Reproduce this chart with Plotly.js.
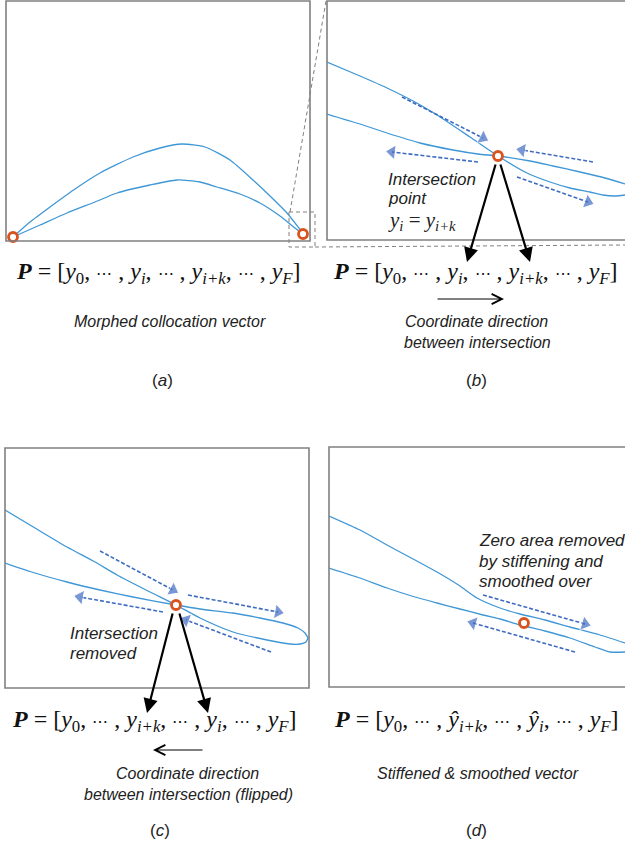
<!DOCTYPE html>
<html><head><meta charset="utf-8">
<script src="https://cdn.plot.ly/plotly-3.0.1.min.js"></script>
<style>html,body{margin:0;padding:0;background:#fff}</style>
</head><body><div id="chart" style="width:625px;height:856px"></div>
<script>
// ---------- data (page-pixel units inside each panel) ----------
const aUpperX = [13, 30, 50, 75, 100, 133, 160, 182, 205, 230, 253, 270, 287, 303, 308];
const aUpperY = [237, 222, 207, 189, 173, 157, 148, 144, 147, 160, 180, 196, 213, 233, 237];
const aLowerX = [13, 40, 67, 95, 117, 150, 177, 200, 217, 240, 260, 280, 295, 303, 308];
const aLowerY = [237, 225, 213, 202, 193, 185, 180, 182, 187, 194, 203, 216, 228, 234, 237];
const aMarkX = [13, 303];
const aMarkY = [237, 234];

const bUpperX = [327, 360, 387, 415, 437, 470, 498, 527, 550, 570, 590, 603, 615, 625];
const bUpperY = [62, 76, 88, 102, 115, 137, 156, 173, 182, 188, 192, 195, 196, 195];
const bLowerX = [327, 360, 387, 420, 453, 478, 498, 530, 553, 580, 605, 625];
const bLowerY = [114, 124, 133, 143, 150, 154, 156, 161, 166, 172, 178, 184];
const bMarkX = [498];
const bMarkY = [156];
const bArrowX0 = [402, 478, 593, 517];
const bArrowY0 = [97, 162, 162, 177];
const bArrowX1 = [483, 392, 522, 588];
const bArrowY1 = [138, 152, 150, 202];

const cUpperX = [5, 35, 67, 95, 117, 150, 176, 200, 233, 267, 290, 300, 306, 308];
const cUpperY = [510, 528, 547, 562, 575, 592, 605, 618, 632, 640, 644, 644, 642, 638];
const cLowerX = [5, 35, 67, 100, 133, 176, 200, 233, 260, 283, 298, 305, 308];
const cLowerY = [563, 573, 582, 590, 597, 605, 609, 613, 618, 623, 628, 633, 638];
const cMarkX = [176];
const cMarkY = [605];
const cArrowX0 = [100, 163, 188, 271];
const cArrowY0 = [551, 612, 595, 652];
const cArrowX1 = [173, 80, 278, 186];
const cArrowY1 = [590, 597, 612, 620];

const dUpperX = [329, 360, 387, 415, 437, 460, 477, 500, 520, 545, 570, 600, 625];
const dUpperY = [516, 530, 545, 560, 572, 586, 598, 608, 614, 620, 627, 635, 643];
const dLowerX = [329, 360, 387, 415, 437, 460, 483, 500, 520, 545, 570, 595, 610, 625];
const dLowerY = [568, 578, 588, 597, 603, 609, 615, 619, 625, 631, 638, 647, 652, 652];
const dMarkX = [524];
const dMarkY = [623];
const dArrowX0 = [483, 575];
const dArrowY0 = [595, 652];
const dArrowX1 = [585, 473];
const dArrowY1 = [624, 623];

// black pointer arrows: tail -> head
const ptrTailX = [496, 500, 173, 179];
const ptrTailY = [163, 163, 612, 612];
const ptrHeadX = [467, 530, 147, 208];
const ptrHeadY = [262, 262, 713, 713];

// ---------- text ----------
const dots = '<span style="font-size:16px">⋯</span>';
const sep = ', ' + dots + ' , ';
const eqA = "<b><i>P</i></b> = [<i>y</i><sub>0</sub>" + sep + "<i>y<sub>i</sub></i>" + sep + "<i>y<sub>i+k</sub></i>" + sep + "<i>y<sub>F</sub></i>]";
const eqB = eqA;
const eqC = "<b><i>P</i></b> = [<i>y</i><sub>0</sub>" + sep + "<i>y<sub>i+k</sub></i>" + sep + "<i>y<sub>i</sub></i>" + sep + "<i>y<sub>F</sub></i>]";
const eqD = "<b><i>P</i></b> = [<i>y</i><sub>0</sub>" + sep + "<i>ŷ<sub>i+k</sub></i>" + sep + "<i>ŷ<sub>i</sub></i>" + sep + "<i>y<sub>F</sub></i>]";

// ---------- helpers ----------
const W = 625, H = 856;
const PX = v => v / W;
const PY = v => 1 - v / H;
const curveCol = '#3f97d6', arrowCol = '#3f6cc2', markCol = '#d9531e';
const serif = 'Liberation Serif, Times New Roman, serif';
const sans = 'Liberation Sans, Arial, sans-serif';

const traces = [];
function curve(x, y, ax) {
  traces.push({x, y, xaxis: 'x' + ax, yaxis: 'y' + ax, type: 'scatter', mode: 'lines',
    line: {color: curveCol, width: 1.3, shape: 'spline', smoothing: 0.6}, hoverinfo: 'skip'});
}
function marks(x, y, ax) {
  traces.push({x, y, xaxis: 'x' + ax, yaxis: 'y' + ax, type: 'scatter', mode: 'markers', cliponaxis: false,
    marker: {symbol: 'circle', size: 9, color: 'white', line: {color: markCol, width: 2.8}}, hoverinfo: 'skip'});
}
function dashArrows(x0, y0, x1, y1, ax) {
  for (let i = 0; i < x0.length; i++) {
    traces.push({x: [x0[i], x1[i]], y: [y0[i], y1[i]], xaxis: 'x' + ax, yaxis: 'y' + ax, type: 'scatter',
      mode: 'lines+markers', cliponaxis: false,
      line: {color: arrowCol, width: 1.6, dash: '4px,2px'},
      marker: {symbol: 'triangle-up', size: [0, 13], color: arrowCol, angleref: 'previous'}, hoverinfo: 'skip'});
  }
}
curve(aUpperX, aUpperY, ''); curve(aLowerX, aLowerY, ''); marks(aMarkX, aMarkY, '');
curve(bUpperX, bUpperY, '2'); curve(bLowerX, bLowerY, '2');
dashArrows(bArrowX0, bArrowY0, bArrowX1, bArrowY1, '2'); marks(bMarkX, bMarkY, '2');
curve(cUpperX, cUpperY, '3'); curve(cLowerX, cLowerY, '3');
dashArrows(cArrowX0, cArrowY0, cArrowX1, cArrowY1, '3'); marks(cMarkX, cMarkY, '3');
curve(dUpperX, dUpperY, '4'); curve(dLowerX, dLowerY, '4');
dashArrows(dArrowX0, dArrowY0, dArrowX1, dArrowY1, '4'); marks(dMarkX, dMarkY, '4');

function axis(x0, x1) {
  return {domain: [PX(x0), Math.min(1, PX(x1))], range: [x0, x1], visible: false, fixedrange: true};
}
function yax(top, bot) {
  return {domain: [PY(bot), PY(top)], range: [bot, top], visible: false, fixedrange: true};
}

const boxLine = {color: '#808080', width: 1.6};
const dashLine = {color: '#808080', width: 1, dash: '4px,3px'};
function rect(x0, y0, x1, y1, line) {
  return {type: 'rect', xref: 'paper', yref: 'paper', x0: PX(x0), x1: PX(x1), y0: PY(y0), y1: PY(y1), line, fillcolor: 'rgba(0,0,0,0)'};
}
function seg(x0, y0, x1, y1, line) {
  return {type: 'line', xref: 'paper', yref: 'paper', x0: PX(x0), x1: PX(x1), y0: PY(y0), y1: PY(y1), line};
}
const shapes = [
  rect(6, 1, 310, 241, boxLine),
  rect(327, 1, 640, 240, boxLine),
  rect(5, 448, 309, 688, boxLine),
  rect(329, 447, 640, 687, boxLine),
  rect(289, 212, 315, 247, dashLine),
  seg(290, 212, 326, 1, dashLine),
  seg(315, 247, 625, 245, dashLine)
];

const ann = [];
function txt(t, x, y, size, font, xanchor, color) {
  ann.push({text: t, x: PX(x), y: PY(y), xref: 'paper', yref: 'paper', showarrow: false,
    xanchor: xanchor || 'center', yanchor: 'middle', font: {family: font, size, color: color || '#111'}});
}
// equations
const eqSize = 24;
txt(eqA, 158, 273, eqSize, serif);
txt(eqB, 475, 273, eqSize, serif);
txt(eqC, 154, 721, eqSize, serif);
txt(eqD, 476, 721, eqSize, serif);
// captions
const capSize = 16;
txt('<i>Morphed collocation vector</i>', 170, 322, capSize, sans, 'center', '#222');
txt('<i>Coordinate direction</i>', 476, 321, capSize, sans, 'center', '#222');
txt('<i>between intersection</i>', 477, 342, capSize, sans, 'center', '#222');
txt('<i>Coordinate direction</i>', 187, 773, capSize, sans, 'center', '#222');
txt('<i>between intersection (flipped)</i>', 188, 794, capSize, sans, 'center', '#222');
txt('<i>Stiffened &amp; smoothed vector</i>', 478, 773, capSize, sans, 'center', '#222');
txt('(<i>a</i>)', 163, 381, 17, sans, 'center', '#222');
txt('(<i>b</i>)', 476, 381, 17, sans, 'center', '#222');
txt('(<i>c</i>)', 160, 830, 17, sans, 'center', '#222');
txt('(<i>d</i>)', 476, 830, 17, sans, 'center', '#222');
// in-panel notes
txt('<i>Intersection</i>', 386, 180, 17, sans, 'left', '#222');
txt('<i>point</i>', 386, 199, 17, sans, 'left', '#222');
txt('<i>y<sub>i</sub></i> = <i>y<sub>i+k</sub></i>', 386, 221, 21, serif, 'left', '#222');
txt('<i>Intersection</i>', 68, 633, 17, sans, 'left', '#222');
txt('<i>removed</i>', 68, 653, 17, sans, 'left', '#222');
txt('<i>Zero area removed</i>', 477, 540, 17, sans, 'left', '#222');
txt('<i>by stiffening and</i>', 477, 561, 17, sans, 'left', '#222');
txt('<i>smoothed over</i>', 477, 581, 17, sans, 'left', '#222');

// black pointer arrows
for (let i = 0; i < ptrTailX.length; i++) {
  ann.push({x: PX(ptrHeadX[i]), y: PY(ptrHeadY[i]), xref: 'paper', yref: 'paper', text: '',
    showarrow: true, arrowhead: 2, arrowsize: 1.3, arrowwidth: 2.2, arrowcolor: '#000',
    ax: ptrTailX[i] - ptrHeadX[i], ay: ptrTailY[i] - ptrHeadY[i], standoff: 0});
}
// direction arrows under equations
ann.push({x: PX(504), y: PY(299), xref: 'paper', yref: 'paper', text: '', showarrow: true,
  arrowhead: 5, arrowsize: 2, arrowwidth: 1, arrowcolor: '#000', ax: -68, ay: 0});
ann.push({x: PX(153), y: PY(750), xref: 'paper', yref: 'paper', text: '', showarrow: true,
  arrowhead: 5, arrowsize: 2, arrowwidth: 1, arrowcolor: '#000', ax: 51, ay: 0});

const layout = {
  width: W, height: H, margin: {l: 0, r: 0, t: 0, b: 0}, showlegend: false,
  paper_bgcolor: '#fff', plot_bgcolor: 'rgba(0,0,0,0)',
  xaxis: axis(6, 310), yaxis: yax(1, 241),
  xaxis2: axis(327, 625), yaxis2: yax(1, 240),
  xaxis3: axis(5, 309), yaxis3: yax(448, 688),
  xaxis4: axis(329, 625), yaxis4: yax(447, 687),
  shapes, annotations: ann
};
Plotly.newPlot('chart', traces, layout, {staticPlot: true, displayModeBar: false});
</script></body></html>
